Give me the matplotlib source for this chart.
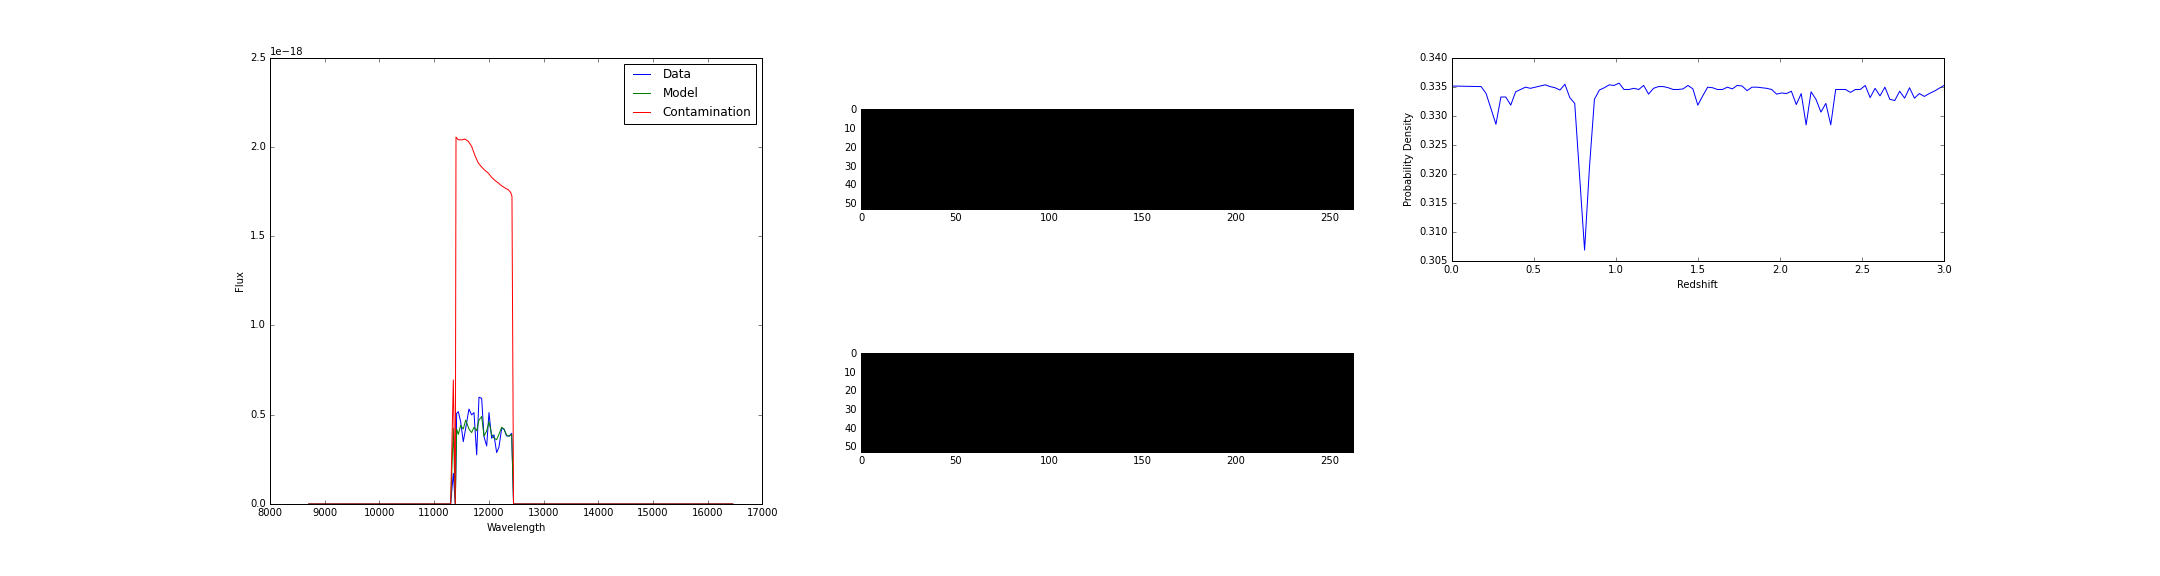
import numpy as np
import matplotlib
matplotlib.use('Agg')
import matplotlib.pyplot as plt
from matplotlib.gridspec import GridSpec

plt.style.use('classic')
plt.rcParams['font.size'] = 10
plt.rcParams['font.family'] = ['DejaVu Sans']

# 1D spectrum (flux in units of 1e-18)
data_wave = [8710, 11302, 11351, 11387, 11412, 11442, 11485, 11533, 11577, 11637,
             11686, 11729, 11778, 11820, 11869, 11912, 11961, 12003, 12052, 12094,
             12143, 12185, 12235, 12277, 12326, 12374, 12418, 12452, 16460]
data_flux = [0, 0, 0.172, 0, 0.508, 0.517, 0.461, 0.349, 0.424, 0.532,
             0.499, 0.512, 0.275, 0.598, 0.592, 0.377, 0.325, 0.512, 0.368, 0.387,
             0.288, 0.318, 0.424, 0.419, 0.381, 0.381, 0.396, 0, 0]
model_flux = [0, 0, 0.424, 0, 0.42, 0.39, 0.44, 0.42, 0.47, 0.42,
              0.40, 0.43, 0.41, 0.47, 0.49, 0.38, 0.41, 0.46, 0.39, 0.37,
              0.36, 0.39, 0.43, 0.42, 0.385, 0.38, 0.39, 0, 0]

contam_wave = [8710, 11302, 11351, 11387, 11400, 11442, 11504, 11564, 11625, 11686,
               11747, 11808, 11869, 11930, 11991, 12052, 12113, 12173, 12235, 12295,
               12356, 12399, 12423, 12452, 16460]
contam_flux = [0, 0, 0.695, 0, 2.055, 2.040, 2.039, 2.044, 2.031, 2.003,
               1.951, 1.910, 1.887, 1.868, 1.853, 1.829, 1.812, 1.798, 1.782, 1.770,
               1.760, 1.745, 1.723, 0, 0]

# 2D cutouts (empty)
img_rows = 53
img_cols = 263

# redshift probability
redshift = [0.0, 0.18, 0.21, 0.27, 0.30, 0.33, 0.36, 0.39, 0.42, 0.45, 0.48, 0.51,
            0.54, 0.57, 0.60, 0.63, 0.66, 0.69, 0.72, 0.75, 0.81, 0.84, 0.87, 0.90,
            0.93, 0.96, 0.99, 1.02, 1.05, 1.08, 1.11, 1.14, 1.17, 1.20, 1.23, 1.26,
            1.29, 1.32, 1.35, 1.38, 1.41, 1.44, 1.47, 1.50, 1.53, 1.56, 1.59, 1.62,
            1.65, 1.68, 1.71, 1.74, 1.77, 1.80, 1.83, 1.86, 1.89, 1.92, 1.95, 1.98,
            2.01, 2.04, 2.07, 2.10, 2.13, 2.16, 2.19, 2.22, 2.25, 2.28, 2.31, 2.34,
            2.37, 2.40, 2.43, 2.46, 2.49, 2.52, 2.55, 2.58, 2.61, 2.64, 2.67, 2.70,
            2.73, 2.76, 2.79, 2.82, 2.85, 2.88, 2.91, 2.94, 2.97, 3.00]
prob = [0.3351, 0.3350, 0.3338, 0.3285, 0.3332, 0.3332, 0.3318, 0.3341, 0.3345, 0.3349, 0.3347, 0.3349,
        0.3351, 0.3353, 0.3350, 0.3348, 0.3344, 0.3354, 0.3331, 0.3321, 0.3068, 0.3212, 0.3328, 0.3344,
        0.3348, 0.3353, 0.3352, 0.3356, 0.3345, 0.3345, 0.3347, 0.3345, 0.3352, 0.3337, 0.3347, 0.3350,
        0.3350, 0.3348, 0.3345, 0.3345, 0.3346, 0.3352, 0.3346, 0.3318, 0.3334, 0.3349, 0.3348, 0.3345,
        0.3345, 0.3349, 0.3346, 0.3352, 0.3351, 0.3343, 0.3349, 0.3349, 0.3348, 0.3347, 0.3345, 0.3337,
        0.3339, 0.3338, 0.3342, 0.3319, 0.3338, 0.3284, 0.3341, 0.3328, 0.3306, 0.3321, 0.3284, 0.3345,
        0.3345, 0.3345, 0.3340, 0.3345, 0.3345, 0.3352, 0.3331, 0.3347, 0.3334, 0.3349, 0.3328, 0.3326,
        0.3342, 0.3330, 0.3348, 0.3330, 0.3338, 0.3333, 0.3338, 0.3342, 0.3347, 0.3352]

fig = plt.figure(figsize=(30, 8), dpi=72, facecolor='white')
gs = GridSpec(2, 3, left=0.125, right=0.9, bottom=0.125, top=0.9, wspace=0.2, hspace=0.2)

# spectrum
ax1 = fig.add_subplot(gs[:, 0])
ax1.plot(data_wave, np.array(data_flux) * 1e-18, 'b', label='Data')
ax1.plot(data_wave, np.array(model_flux) * 1e-18, 'g', label='Model')
ax1.plot(contam_wave, np.array(contam_flux) * 1e-18, 'r', label='Contamination')
ax1.set_xlim(8000, 17000)
ax1.set_ylim(0, 2.5e-18)
ax1.set_xlabel('Wavelength')
ax1.set_ylabel('Flux')
ax1.legend(loc='upper right', fontsize=12)

# 2D images
blank = np.zeros((img_rows, img_cols))
ax2 = fig.add_subplot(gs[0, 1])
ax2.imshow(blank, cmap='gray', interpolation='nearest')
ax3 = fig.add_subplot(gs[1, 1])
ax3.imshow(blank, cmap='gray', interpolation='nearest')

# redshift PDF
ax4 = fig.add_subplot(gs[0, 2])
ax4.plot(redshift, prob, 'b')
ax4.set_xlim(0, 3.0)
ax4.set_ylim(0.305, 0.340)
ax4.set_xlabel('Redshift')
ax4.set_ylabel('Probability Density')

fig.savefig('out.png', dpi=72, facecolor='white')
